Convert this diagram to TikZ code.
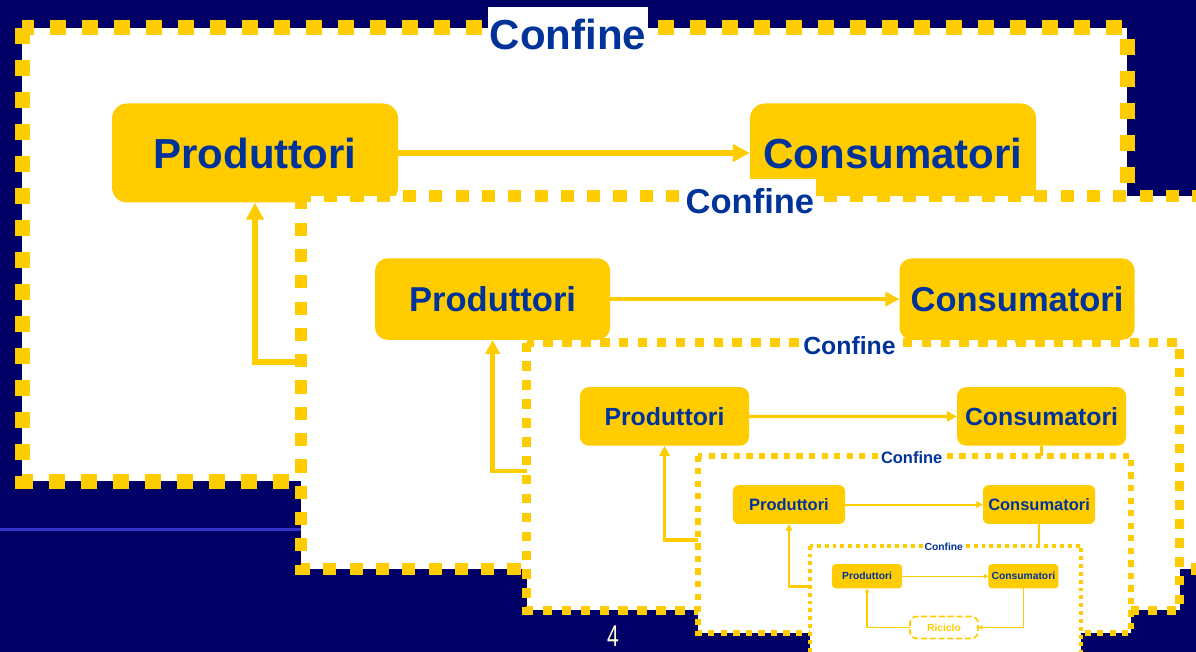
\documentclass[tikz,border=0pt]{standalone}
\usepackage{fontspec}
\setmainfont{Liberation Sans}
\usetikzlibrary{arrows.meta}
\definecolor{navy}{HTML}{000066}
\definecolor{gold}{HTML}{FFCC00}
\definecolor{inchiostro}{HTML}{003399}
\definecolor{riga}{HTML}{3333CC}
\definecolor{crema}{HTML}{FFFFD8}
\tikzset{
  confine/.style={draw=gold, fill=white, line width=#1*15pt, dash pattern=on #1*16pt off #1*16pt},
  blocco/.style={fill=gold, text=inchiostro, rounded corners=#1*15pt, minimum width=286pt, minimum height=99pt, inner sep=0pt, font=\bfseries\fontsize{42}{48}\selectfont},
  etichetta/.style={fill=white, text=inchiostro, minimum width=160pt, minimum height=54pt, inner sep=0pt, font=\bfseries\fontsize{42}{48}\selectfont},
  riciclo/.style={draw=gold, fill=white, text=gold, line width=#1*7pt, dash pattern=on #1*24pt off #1*12pt, rounded corners=#1*28pt, minimum width=278pt, minimum height=90pt, inner sep=0pt, font=\bfseries\fontsize{42}{48}\selectfont},
  flusso/.style={draw=gold, line width=#1*5.5pt, -{Triangle[length=0pt 3.1, width=0pt 3.1]}},
}
\begin{document}
\begin{tikzpicture}[x=1pt, y=-1pt]
\useasboundingbox (0,0) rectangle (1196,652);
\clip (0,0) rectangle (1196,652);
\fill[navy] (0,0) rectangle (1196,652);
% slide level 1
\draw[confine=1] (22,28) rectangle (1127,481);
\node[etichetta] (K1) at (568,34) {Confine};
\node[blocco=1] (P1) at (255,153) {Produttori};
\node[blocco=1] (C1) at (893,153) {Consumatori};
\node[riciclo=1] (R1) at (569,362) {Riciclo};
\draw[flusso=1] (P1) -- (C1);
\draw[flusso=1] (C1) |- (R1);
\draw[flusso=1] (R1) -| (P1);
\draw[riga, line width=3pt] (0,529.5) -- (301,529.5);
\node[text=crema, font=\fontsize{30}{30}\selectfont, xscale=0.7] (N) at (613,636) {4};
% level 2
\begin{scope}[shift={(283,173.3)}, scale=0.822, transform shape]
\draw[confine=0.822] (22,28) rectangle (1127,481);
\node[etichetta] (K2) at (568,34) {Confine};
\node[blocco=0.822] (P2) at (255,153) {Produttori};
\node[blocco=0.822] (C2) at (893,153) {Consumatori};
\node[riciclo=0.822] (R2) at (569,362) {Riciclo};
\draw[flusso=0.822] (P2) -- (C2);
\draw[flusso=0.822] (C2) |- (R2);
\draw[flusso=0.822] (R2) -| (P2);
\end{scope}
% level 3
\begin{scope}[shift={(513.8,326)}, scale=0.591, transform shape]
\draw[confine=0.591] (22,28) rectangle (1127,481);
\node[etichetta] (K3) at (568,34) {Confine};
\node[blocco=0.591] (P3) at (255,153) {Produttori};
\node[blocco=0.591] (C3) at (893,153) {Consumatori};
\node[riciclo=0.591] (R3) at (569,362) {Riciclo};
\draw[flusso=0.591] (P3) -- (C3);
\draw[flusso=0.591] (C3) |- (R3);
\draw[flusso=0.591] (R3) -| (P3);
\end{scope}
% level 4
\begin{scope}[shift={(689,444.6)}, scale=0.392, transform shape]
\draw[confine=0.392] (22,28) rectangle (1127,481);
\node[etichetta] (K4) at (568,34) {Confine};
\node[blocco=0.392] (P4) at (255,153) {Produttori};
\node[blocco=0.392] (C4) at (893,153) {Consumatori};
\node[riciclo=0.392] (R4) at (569,362) {Riciclo};
\draw[flusso=0.392] (P4) -- (C4);
\draw[flusso=0.392] (C4) |- (R4);
\draw[flusso=0.392] (R4) -| (P4);
\end{scope}
% level 5
\begin{scope}[shift={(804.6,538.8)}, scale=0.245, transform shape]
\draw[confine=0.245] (22,28) rectangle (1127,481);
\node[etichetta] (K5) at (568,34) {Confine};
\node[blocco=0.245] (P5) at (255,153) {Produttori};
\node[blocco=0.245] (C5) at (893,153) {Consumatori};
\node[riciclo=0.245] (R5) at (569,362) {Riciclo};
\draw[flusso=0.245] (P5) -- (C5);
\draw[flusso=0.245] (C5) |- (R5);
\draw[flusso=0.245] (R5) -| (P5);
\end{scope}
\end{tikzpicture}
\end{document}
